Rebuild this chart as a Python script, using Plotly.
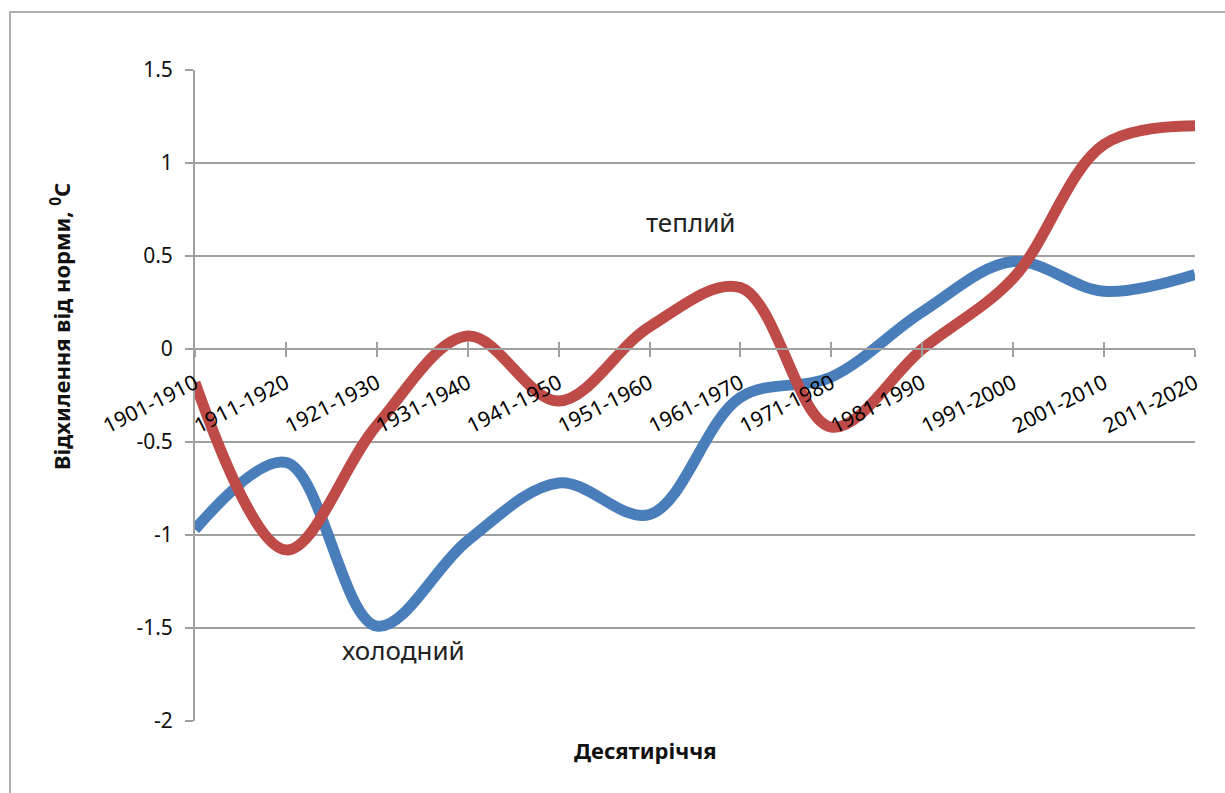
import plotly.graph_objects as go

decades = ["1901-1910", "1911-1920", "1921-1930", "1931-1940", "1941-1950", "1951-1960",
           "1961-1970", "1971-1980", "1981-1990", "1991-2000", "2001-2010", "2011-2020"]
cold = [-0.97, -0.61, -1.49, -1.03, -0.72, -0.89, -0.26, -0.15, 0.20, 0.47, 0.31, 0.40]
warm = [-0.18, -1.08, -0.41, 0.07, -0.28, 0.12, 0.33, -0.42, 0.00, 0.38, 1.10, 1.20]
y_ticks = [1.5, 1, 0.5, 0, -0.5, -1, -1.5, -2]
y_tick_text = ["1.5", "1", "0.5", "0", "-0.5", "-1", "-1.5", "-2"]

FONT = "Noto Sans"
BLUE = "#4A7EBB"
RED = "#BE4B48"
GRID = "#A0A0A0"

fig = go.Figure()
fig.add_trace(go.Scatter(x=decades, y=cold, mode="lines", name="холодний",
                         line=dict(color=BLUE, width=11, shape="spline", smoothing=1.0),
                         hoverinfo="skip"))
fig.add_trace(go.Scatter(x=decades, y=warm, mode="lines", name="теплий",
                         line=dict(color=RED, width=11, shape="spline", smoothing=1.0),
                         hoverinfo="skip"))
# helper trace so the upper tick marks of the zero axis are drawn
fig.add_trace(go.Scatter(x=decades, y=[None] * len(decades), xaxis="x2", mode="lines",
                         showlegend=False, hoverinfo="skip"))

zero_pos = (0 - (-2)) / (1.5 - (-2))

fig.update_layout(
    width=1225, height=793,
    margin=dict(l=195, r=30, t=70, b=72),
    paper_bgcolor="white", plot_bgcolor="white",
    showlegend=False,
    font=dict(family=FONT, color="#222222"),
    xaxis=dict(type="category", range=[0, 11], anchor="free", position=zero_pos,
               showgrid=False, zeroline=False, showline=True, linecolor=GRID, linewidth=2,
               ticks="outside", ticklen=7, tickwidth=1.5, tickcolor=GRID,
               ticklabelstandoff=6,
               tickangle=-27, tickfont=dict(family=FONT, size=21, color="#000000")),
    xaxis2=dict(type="category", range=[0, 11], overlaying="x", anchor="free", position=zero_pos,
                showgrid=False, zeroline=False, showline=False,
                ticks="inside", ticklen=7, tickwidth=1.5, tickcolor=GRID, showticklabels=False),
    yaxis=dict(range=[-2, 1.5], tickvals=y_ticks, ticktext=y_tick_text,
               showgrid=True, gridcolor=GRID, gridwidth=1.5, zeroline=False,
               showline=True, linecolor=GRID, linewidth=2,
               ticks="outside", ticklen=8, tickwidth=1.5, tickcolor=GRID,
               ticklabelstandoff=8,
               tickfont=dict(family=FONT, size=21, color="#111111")),
    shapes=[dict(type="rect", xref="paper", yref="paper",
                 x0=-0.185, x1=1.05, y0=-0.15, y1=1.089,
                 line=dict(color="#B0B0B0", width=2), layer="below")],
    annotations=[
        dict(text="теплий", xref="paper", yref="paper", x=(690 - 195) / 1000, y=(721 - 222) / 651,
             showarrow=False, font=dict(family=FONT, size=26, color="#222222"),
             xanchor="center", yanchor="middle"),
        dict(text="холодний", xref="paper", yref="paper", x=(403 - 195) / 1000, y=(721 - 650) / 651,
             showarrow=False, font=dict(family=FONT, size=26, color="#222222"),
             xanchor="center", yanchor="middle"),
        dict(text="<b>Десятиріччя</b>", xref="paper", yref="paper", x=(645 - 195) / 1000,
             y=(721 - 750) / 651, showarrow=False,
             font=dict(family=FONT, size=22, color="#111111"),
             xanchor="center", yanchor="middle"),
        dict(text="<b>Відхилення від норми, <sup>0</sup>С</b>", xref="paper", yref="paper",
             x=(60 - 195) / 1000, y=(721 - 327) / 651, showarrow=False, textangle=-90,
             font=dict(family=FONT, size=22, color="#111111"),
             xanchor="center", yanchor="middle"),
    ],
)

fig.write_html("out.html")
